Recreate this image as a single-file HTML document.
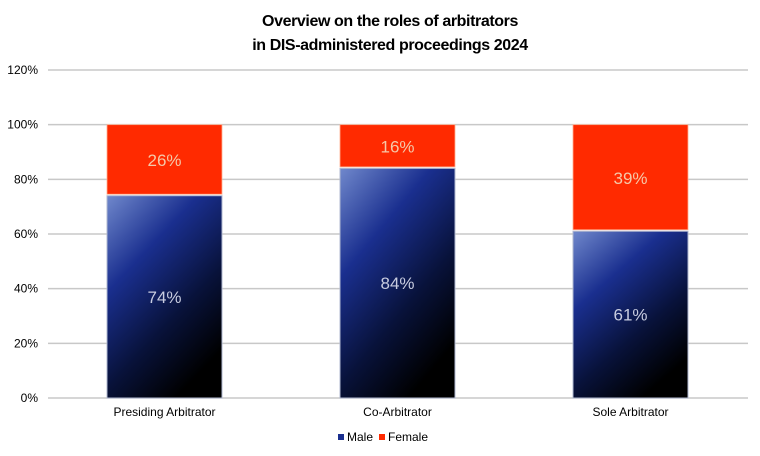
<!DOCTYPE html>
<html><head><meta charset="utf-8"><style>
body{margin:0;background:#fff;width:760px;height:456px;overflow:hidden}
svg{display:block;font-family:"Liberation Sans",sans-serif}
</style></head><body>
<svg id="chart" width="760" height="456" viewBox="0 0 760 456">
<defs>
<linearGradient id="maleGrad" x1="0" y1="0" x2="0.6" y2="1">
<stop offset="0" stop-color="#7088cc"/>
<stop offset="0.35" stop-color="#1a2f8f"/>
<stop offset="0.7" stop-color="#08123a"/>
<stop offset="1" stop-color="#000000"/>
</linearGradient>
</defs>
<text x="390" y="26" text-anchor="middle" font-size="16" font-weight="bold" letter-spacing="-0.4">Overview on the roles of arbitrators</text>
<text x="390" y="50" text-anchor="middle" font-size="16" font-weight="bold" letter-spacing="-0.4">in DIS-administered proceedings 2024</text>
<g id="grid"></g><g id="bars"></g><g id="xlabels"></g>
<g>
<rect x="338" y="434" width="6" height="6" fill="#1a2f8f"/>
<text x="347" y="441" font-size="12">Male</text>
<rect x="379" y="434" width="6" height="6" fill="#ff2a00"/>
<text x="388" y="441" font-size="12">Female</text>
</g>
</svg>
<script>
const categories=["Presiding Arbitrator","Co-Arbitrator","Sole Arbitrator"];
const maleValues=[74,84,61];
const femaleValues=[26,16,39];
const yTicks=[0,20,40,60,80,100,120];
const NS="http://www.w3.org/2000/svg";
const y0=398,y1=70,yMax=120,xL=48,xR=748;
function y(v){return y0-(v/yMax)*(y0-y1);}
function xc(i){return 164.5+i*233;}
const bw=115;
function mk(t,a,p){const e=document.createElementNS(NS,t);for(const k in a)e.setAttribute(k,a[k]);p.appendChild(e);return e;}
const grid=document.getElementById('grid');
yTicks.forEach(v=>{
const l=mk('line',{x1:xL,x2:xR,y1:y(v),y2:y(v),stroke:'#c8c8c8','stroke-width':1.5},grid);


const t=mk('text',{x:38,y:y(v)+4,'text-anchor':'end','font-size':12},grid);
t.textContent=v+'%';


});
const bars=document.getElementById('bars'),xl=document.getElementById('xlabels');
categories.forEach((c,i)=>{
const x=xc(i)-bw/2,m=maleValues[i],f=femaleValues[i];
const mb=mk('rect',{x:x,y:y(m),width:bw,height:y(0)-y(m),fill:'url(#maleGrad)',stroke:'#b0b8d0','stroke-width':1},bars);


const fb=mk('rect',{x:x,y:y(m+f),width:bw,height:y(m)-y(m+f)-1.5,fill:'#ff2a00',stroke:'#ffb090','stroke-width':0.8},bars);


const mt=mk('text',{x:xc(i),y:(y(m)+y(0))/2+6,'text-anchor':'middle','font-size':17,fill:'#c8cce0'},bars);
mt.textContent=m+'%';


const ft=mk('text',{x:xc(i),y:(y(m)+y(m+f))/2+6,'text-anchor':'middle','font-size':17,fill:'#f5c8a8'},bars);
ft.textContent=f+'%';


const ct=mk('text',{x:xc(i),y:416,'text-anchor':'middle','font-size':12},xl);
ct.textContent=c;


});
</script>
</body></html>
